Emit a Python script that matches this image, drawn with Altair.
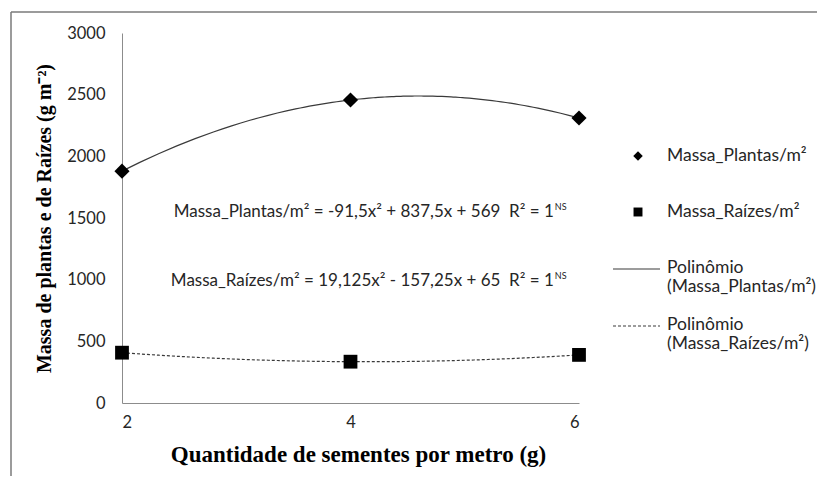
import altair as alt
import pandas as pd

# Data
sementes = [2, 4, 6]
massa_plantas = [1880, 2457, 2311]
massa_raizes = [408, 335, 390]

eq_plantas = "Massa_Plantas/m² = -91,5x² + 837,5x + 569\u00a0 R² = 1"
eq_raizes = "Massa_Raízes/m² = 19,125x² - 157,25x + 65\u00a0 R² = 1"
eq_sup = "NS"
legend_single = ["Massa_Plantas/m²", "Massa_Raízes/m²"]
legend_multi = [["Polinômio", "(Massa_Plantas/m²)"],
                ["Polinômio", "(Massa_Raízes/m²)"]]

df = pd.DataFrame({"x": sementes, "plantas": massa_plantas, "raizes": massa_raizes})
one = pd.DataFrame({"a": [0]})

LABEL_FONT = "Lato"
TITLE_FONT = "Liberation Serif"
AXIS_GRAY = "#8c8c8c"
TXT = "#262626"
FS = 16.5
FT = 17.5
FE = 17

xs = alt.X("x:Q", scale=alt.Scale(domain=[2, 6], nice=False),
           axis=alt.Axis(values=[2, 4, 6], format="d", title="Quantidade de sementes por metro (g)",
                         grid=False, ticks=False, tickSize=0, domainColor=AXIS_GRAY,
                         labelFont=LABEL_FONT, labelFontSize=FS, labelColor=TXT,
                         labelPadding=11, titleFont=TITLE_FONT, titleFontSize=23,
                         titleFontWeight="bold", titleColor="black", titlePadding=13,
                         titleX=236))
ys = alt.Y("plantas:Q", scale=alt.Scale(domain=[0, 3000], nice=False),
           axis=alt.Axis(values=[0, 500, 1000, 1500, 2000, 2500, 3000], format="d",
                         title="Massa de plantas e de Raízes (g m⁻²)",
                         grid=False, ticks=False, tickSize=0, domainColor=AXIS_GRAY,
                         labelFont=LABEL_FONT, labelFontSize=FS, labelColor=TXT,
                         labelPadding=17, titleFont=TITLE_FONT, titleFontSize=20,
                         titleFontWeight="bold", titleColor="black", titlePadding=12))

base = alt.Chart(df)

curve_p = base.transform_regression("x", "plantas", method="poly", order=2, extent=[2, 6]) \
    .mark_line(color="#3a3a3a", strokeWidth=1.2).encode(x=xs, y=ys)
curve_r = base.transform_regression("x", "raizes", method="poly", order=2, extent=[2, 6]) \
    .mark_line(color="#3a3a3a", strokeWidth=1.2, strokeDash=[3, 2]) \
    .encode(x=alt.X("x:Q"), y=alt.Y("raizes:Q"))

pts_p = base.mark_point(shape="diamond", filled=True, color="black", size=230, opacity=1) \
    .encode(x=alt.X("x:Q"), y=alt.Y("plantas:Q"))
pts_r = base.mark_square(color="black", size=190, opacity=1) \
    .encode(x=alt.X("x:Q"), y=alt.Y("raizes:Q"))

eq_df = pd.DataFrame({"x": [5.78, 5.78], "y": [1547, 986], "t": [eq_plantas, eq_raizes]})
eq_text = alt.Chart(eq_df).mark_text(align="right", baseline="middle", font=LABEL_FONT,
                                     fontSize=FE, color=TXT) \
    .encode(x=alt.X("x:Q"), y=alt.Y("y:Q"), text="t:N")
eq_ns = alt.Chart(eq_df).mark_text(align="left", baseline="middle", font=LABEL_FONT,
                                   fontSize=9, color=TXT, dx=1, dy=-5) \
    .encode(x=alt.X("x:Q"), y=alt.Y("y:Q"), text=alt.value(eq_sup))

# Legend (manual)
lg = alt.Chart(one)
OY = 33
leg_x = 545
lg_marks = [
    lg.mark_point(shape="diamond", filled=True, color="black", size=90, opacity=1)
      .encode(x=alt.value(516), y=alt.value(156 - OY)),
    lg.mark_square(color="black", size=80, opacity=1)
      .encode(x=alt.value(516), y=alt.value(212 - OY)),
    lg.mark_rule(color="#3a3a3a", strokeWidth=1.2)
      .encode(x=alt.value(491), x2=alt.value(538), y=alt.value(269 - OY)),
    lg.mark_rule(color="#3a3a3a", strokeWidth=1.2, strokeDash=[3, 2])
      .encode(x=alt.value(491), x2=alt.value(538), y=alt.value(326 - OY)),
]
for lab, yy in zip(legend_single, [156, 212]):
    lg_marks.append(lg.mark_text(align="left", baseline="middle", font=LABEL_FONT,
                                 fontSize=FT, color=TXT)
                    .encode(x=alt.value(leg_x), y=alt.value(yy - OY), text=alt.value(lab)))
for lab, yy in zip(legend_multi, [269, 326]):
    lg_marks.append(lg.mark_text(align="left", baseline="top", font=LABEL_FONT,
                                 fontSize=FT, lineHeight=19, color=TXT)
                    .encode(x=alt.value(leg_x), y=alt.value(yy - OY - 10), text=alt.value(lab)))

# Outer frame
frame = [
    lg.mark_rule(color="#7a7a7a", strokeWidth=1.5)
      .encode(x=alt.value(-111), y=alt.value(-21), y2=alt.value(460)),
    lg.mark_rule(color="#7a7a7a", strokeWidth=1.5)
      .encode(x=alt.value(-111), x2=alt.value(720), y=alt.value(-21)),
]

chart = alt.layer(curve_p, curve_r, pts_p, pts_r, eq_text, eq_ns, *lg_marks, *frame).properties(
    width=457, height=370,
    autosize=alt.AutoSizeParams(type="none"),
    padding={"left": 114, "top": 25, "right": 238, "bottom": 73},
    background="white",
).configure_view(stroke=None)

chart.save("out.html", embed_options={"renderer": "svg", "actions": False})
